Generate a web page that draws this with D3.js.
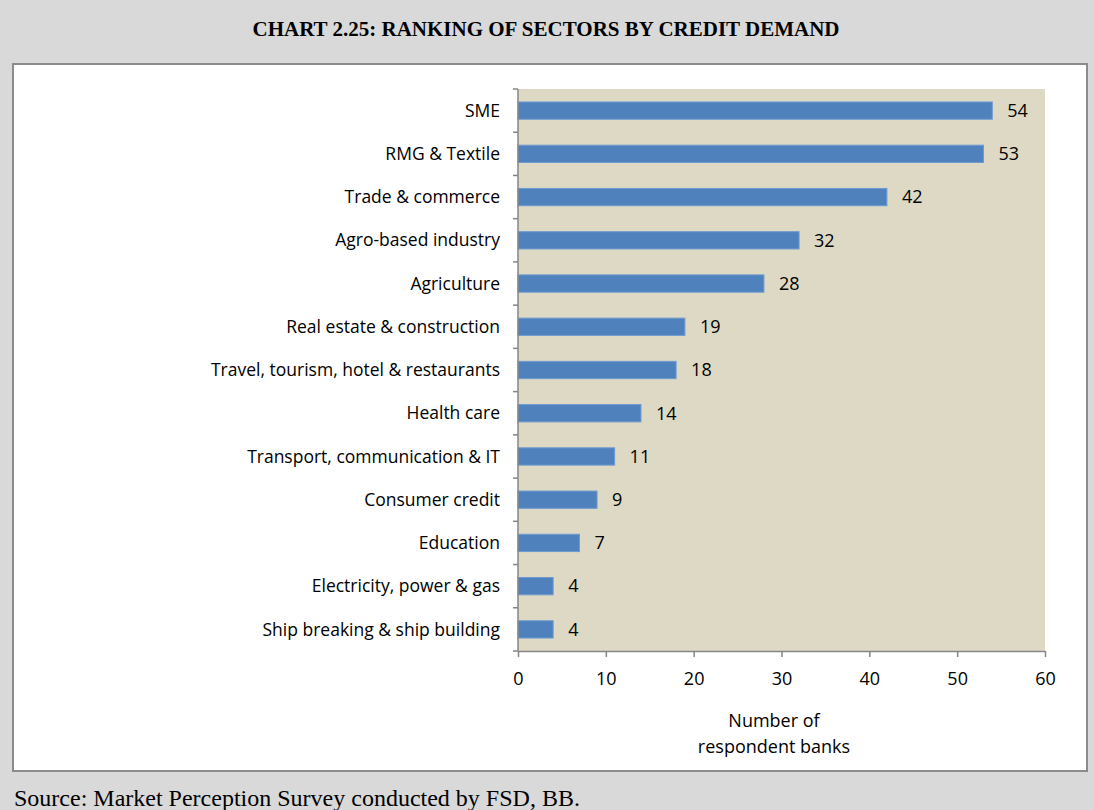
<!DOCTYPE html>
<html>
<head>
<meta charset="utf-8">
<script src="https://cdn.jsdelivr.net/npm/d3@7"></script>
<style>
  html, body { margin: 0; padding: 0; background: #d9d9d9; }
  svg { display: block; }
</style>
</head>
<body>
<svg id="chart" width="1094" height="810"></svg>
<script>
// Sectors ranked by the number of banks reporting credit demand
const sectors = [
  "SME",
  "RMG & Textile",
  "Trade & commerce",
  "Agro-based industry",
  "Agriculture",
  "Real estate & construction",
  "Travel, tourism, hotel & restaurants",
  "Health care",
  "Transport, communication & IT",
  "Consumer credit",
  "Education",
  "Electricity, power & gas",
  "Ship breaking & ship building"
];
const banks = [54, 53, 42, 32, 28, 19, 18, 14, 11, 9, 7, 4, 4];
const xTicks = [0, 10, 20, 30, 40, 50, 60];

const titleText = "CHART 2.25: RANKING OF SECTORS BY CREDIT DEMAND";
const sourceText = "Source: Market Perception Survey conducted by FSD, BB.";
const axisTitle = ["Number of", "respondent banks"];

const svg = d3.select("#chart");
const labelFont = "'Open Sans', 'Noto Sans', sans-serif";

// Page title
svg.append("text")
  .attr("x", 546).attr("y", 36)
  .attr("text-anchor", "middle")
  .attr("font-family", "'Liberation Serif', 'Times New Roman', serif")
  .attr("font-weight", "bold")
  .attr("font-size", 21)
  .attr("fill", "#000")
  .text(titleText);

// White chart frame
svg.append("rect")
  .attr("x", 13).attr("y", 64)
  .attr("width", 1074).attr("height", 707)
  .attr("fill", "#fff")
  .attr("stroke", "#8c8c8c")
  .attr("stroke-width", 2);

// Plot area
const plot = { left: 518, right: 1045, top: 89, bottom: 651 };

const x = d3.scaleLinear().domain([0, 60]).range([plot.left, plot.right]);
const y = d3.scaleBand().domain(sectors).range([plot.top, plot.bottom]).paddingInner(0.6).paddingOuter(0.3);
const yEdge = d3.scaleBand().domain(sectors).range([plot.top, plot.bottom]);

svg.append("rect")
  .attr("x", plot.left).attr("y", plot.top)
  .attr("width", plot.right - plot.left).attr("height", plot.bottom - plot.top)
  .attr("fill", "#ddd9c4");

// Bars
svg.append("g").selectAll("rect")
  .data(sectors)
  .join("rect")
  .attr("x", x(0))
  .attr("y", d => y(d))
  .attr("width", (d, i) => x(banks[i]) - x(0))
  .attr("height", y.bandwidth())
  .attr("fill", "#4f81bd")
  .attr("stroke", "#6f9bd0")
  .attr("stroke-width", 1);

// Value labels
svg.append("g").selectAll("text")
  .data(sectors)
  .join("text")
  .attr("x", (d, i) => x(banks[i]) + 15)
  .attr("y", d => y(d) + y.bandwidth() / 2)
  .attr("dy", "0.35em")
  .attr("font-family", labelFont)
  .attr("font-size", 18)
  .attr("fill", "#000")
  .text((d, i) => banks[i]);

// Category axis: line with ticks at band boundaries
const axisColor = "#868686";
const yAxis = svg.append("g");
yAxis.append("line")
  .attr("x1", plot.left).attr("x2", plot.left)
  .attr("y1", plot.top).attr("y2", plot.bottom)
  .attr("stroke", axisColor).attr("stroke-width", 1.5);
const bounds = sectors.map(d => yEdge(d)).concat([plot.bottom]);
yAxis.selectAll("line.tick")
  .data(bounds)
  .join("line")
  .attr("class", "tick")
  .attr("x1", plot.left - 5).attr("x2", plot.left)
  .attr("y1", d => d).attr("y2", d => d)
  .attr("stroke", axisColor).attr("stroke-width", 1.5);
yAxis.selectAll("text")
  .data(sectors)
  .join("text")
  .attr("x", plot.left - 18)
  .attr("y", d => yEdge(d) + yEdge.bandwidth() / 2)
  .attr("dy", "0.35em")
  .attr("text-anchor", "end")
  .attr("font-family", labelFont)
  .attr("font-size", 17.5)
  .attr("fill", "#000")
  .text(d => d);

// Value axis
const xAxis = svg.append("g")
  .attr("transform", `translate(0,${plot.bottom})`)
  .call(d3.axisBottom(x).tickValues(xTicks).tickSize(6).tickSizeOuter(0).tickPadding(15));
xAxis.select(".domain").attr("stroke", axisColor).attr("stroke-width", 1.5);
xAxis.selectAll(".tick line").attr("stroke", axisColor).attr("stroke-width", 1.5);
xAxis.selectAll(".tick text")
  .attr("font-family", labelFont)
  .attr("font-size", 18)
  .attr("fill", "#000");

// Value axis title
svg.append("text")
  .attr("x", 774).attr("y", 727)
  .attr("text-anchor", "middle")
  .attr("font-family", labelFont)
  .attr("font-size", 18)
  .attr("fill", "#000")
  .selectAll("tspan")
  .data(axisTitle)
  .join("tspan")
  .attr("x", 774)
  .attr("dy", (d, i) => i === 0 ? 0 : 26)
  .text(d => d);

// Source note
svg.append("text")
  .attr("x", 14).attr("y", 806)
  .attr("font-family", "'Liberation Serif', 'Times New Roman', serif")
  .attr("font-size", 24)
  .attr("fill", "#000")
  .text(sourceText);
</script>
</body>
</html>
